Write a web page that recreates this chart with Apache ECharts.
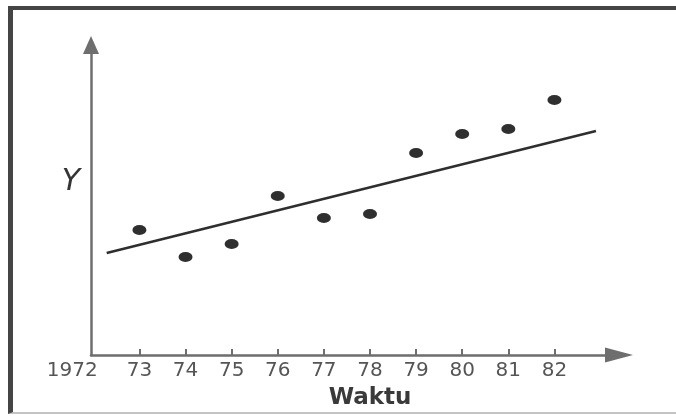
<!DOCTYPE html>
<html>
<head>
<meta charset="utf-8">
<script src="https://cdn.jsdelivr.net/npm/echarts@6/dist/echarts.min.js"></script>
<style>
  html, body { margin: 0; padding: 0; background: #fff; }
  #chart { position: absolute; left: 0; top: 0; width: 676px; height: 416px; }
  #frame {
    position: absolute; left: 8px; top: 6px; width: 676px; height: 408px;
    border-top: 4px solid #454545; border-left: 5px solid #454545;
    border-bottom: 2px solid #c4c4c4; box-sizing: border-box; pointer-events: none;
  }
</style>
</head>
<body>
<div id="chart"></div>
<div id="frame"></div>
<script>
// tahun (sumbu x) dan nilai Y tiap titik
var years = [73, 74, 75, 76, 77, 78, 79, 80, 81, 82];
var values = [12.5, 9.8, 11.1, 15.9, 13.7, 14.1, 20.2, 22.1, 22.6, 25.5];
// garis tren
var trendX = [72.29, 82.9];
var trendY = [10.2, 22.4];
// label sumbu x
var tickValues = [72, 73, 74, 75, 76, 77, 78, 79, 80, 81, 82];
var tickLabels = ['1972', '73', '74', '75', '76', '77', '78', '79', '80', '81', '82'];

var chart = echarts.init(document.getElementById('chart'));

var axisColor = '#6e6e6e';
var labelFont = { fontFamily: 'DejaVu Sans', fontSize: 20, color: '#555555' };

var option = {
    animation: false,
    grid: { left: 91, right: 57, top: 45, bottom: 61, containLabel: false },
    xAxis: {
        type: 'value',
        min: 71.95,
        max: 83.4,
        name: 'Waktu',
        nameLocation: 'middle',
        nameGap: 32,
        nameTextStyle: {
            fontFamily: 'DejaVu Sans', fontWeight: 'bold', fontSize: 23,
            color: '#3a3a3a', padding: [0, 0, 0, 30]
        },
        splitLine: { show: false },
        axisLine: {
            lineStyle: { color: axisColor, width: 2.5 },
            symbol: ['none', 'triangle'],
            symbolSize: [15, 28]
        },
        axisTick: {
            inside: true, length: 6,
            customValues: tickValues.slice(1),
            lineStyle: { color: axisColor, width: 2 }
        },
        axisLabel: {
            customValues: tickValues,
            margin: 6,
            fontFamily: labelFont.fontFamily,
            fontSize: labelFont.fontSize,
            color: labelFont.color,
            formatter: function (v) {
                var i = tickValues.indexOf(Math.round(v));
                if (i === 0) return '{a|' + tickLabels[0] + '}';
                return i >= 0 ? tickLabels[i] : '';
            },
            rich: {
                a: {
                    fontFamily: labelFont.fontFamily,
                    fontSize: labelFont.fontSize,
                    color: labelFont.color,
                    padding: [0, 42, 0, 0]
                }
            }
        }
    },
    yAxis: {
        type: 'value',
        min: 0,
        max: 31,
        name: 'Y',
        nameLocation: 'middle',
        nameRotate: 0,
        nameGap: 11,
        nameTextStyle: {
            fontFamily: 'DejaVu Sans', fontStyle: 'italic', fontSize: 30,
            color: '#353535', verticalAlign: 'bottom', padding: [0, 0, 3, 0]
        },
        splitLine: { show: false },
        axisTick: { show: false },
        axisLabel: { show: false },
        axisLine: {
            lineStyle: { color: axisColor, width: 2.5 },
            symbol: ['none', 'triangle'],
            symbolSize: [16, 18]
        }
    },
    series: [
        {
            type: 'line',
            data: trendX.map(function (x, i) { return [x, trendY[i]]; }),
            symbol: 'none',
            lineStyle: { color: '#2e2e2e', width: 2.5 },
            z: 2
        },
        {
            type: 'scatter',
            data: years.map(function (y, i) { return [y, values[i]]; }),
            symbol: 'circle',
            symbolSize: [14, 10],
            itemStyle: { color: '#2f2f2f', opacity: 1 },
            z: 3
        }
    ]
};

chart.setOption(option);
</script>
</body>
</html>
